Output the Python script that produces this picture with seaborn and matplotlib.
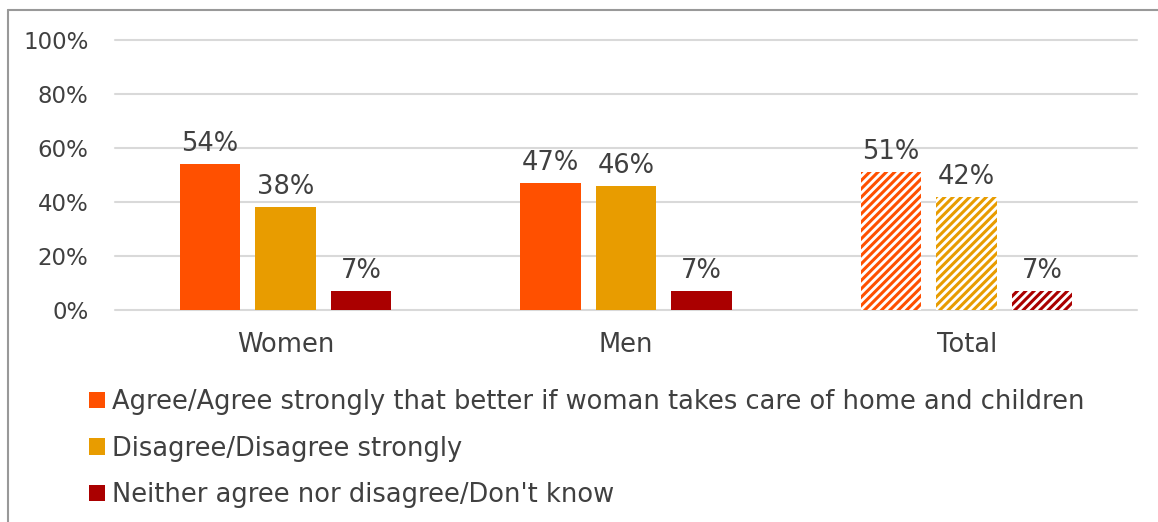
import matplotlib
matplotlib.use("Agg")
import matplotlib.pyplot as plt
from matplotlib.lines import Line2D
import seaborn as sns
import pandas as pd

# Survey results by respondent group
groups = ["Women", "Men", "Total"]
responses = [
    "Agree/Agree strongly that better if woman takes care of home and children",
    "Disagree/Disagree strongly",
    "Neither agree nor disagree/Don't know",
]
agree = [54, 47, 51]
disagree = [38, 46, 42]
neither = [7, 7, 7]
colors = ["#FF5000", "#E89C00", "#AA0000"]
y_ticks = [0, 20, 40, 60, 80, 100]

rows = []
for resp, vals in zip(responses, [agree, disagree, neither]):
    for g, v in zip(groups, vals):
        rows.append({"group": g, "response": resp, "value": v})
df = pd.DataFrame(rows)

sns.set_theme(style="white")
plt.rcParams["font.family"] = ["DejaVu Sans"]
plt.rcParams["hatch.linewidth"] = 2.2
text_color = "#404040"

fig = plt.figure(figsize=(11.58, 5.22), dpi=100)
ax = fig.add_axes([115 / 1158, 1 - 310 / 522, 1022 / 1158, 270 / 522])

sns.barplot(data=df, x="group", y="value", hue="response", order=groups,
            hue_order=responses, palette=colors, width=0.665, gap=0.2,
            saturation=1, linewidth=0, ax=ax, legend=True)

# Overall column drawn with diagonal stripes
for container, col in zip(ax.containers, colors):
    bar = container.patches[2]
    bar.set_facecolor("white")
    bar.set_edgecolor(col)
    bar.set_hatch("////")
    bar.set_linewidth(0)

for container, vals in zip(ax.containers, [agree, disagree, neither]):
    ax.bar_label(container, labels=[f"{v}%" for v in vals], padding=5,
                 fontsize=18.5, color=text_color)

ax.set_xlim(-0.5, 2.5)
ax.set_ylim(0, 100)
ax.set_yticks(y_ticks)
ax.set_yticklabels([f"{t}%" for t in y_ticks])
ax.yaxis.grid(True, color="#D9D9D9", linewidth=1.5)
for gl in ax.get_ygridlines():
    gl.set_clip_on(False)
ax.set_axisbelow(True)
for s in ax.spines.values():
    s.set_visible(False)
ax.tick_params(axis="y", length=0, pad=19, labelsize=16.5, labelcolor=text_color)
ax.tick_params(axis="x", length=0, pad=16, labelsize=18.5, labelcolor=text_color)
ax.set_xlabel("")
ax.set_ylabel("")

handles, labels = ax.get_legend_handles_labels()
ax.get_legend().remove()
fig.legend(handles, labels, loc="upper left", bbox_to_anchor=(66 / 1158, 1 - 366 / 522),
           frameon=False, fontsize=18.5, labelcolor=text_color, handlelength=0.6,
           handleheight=0.6, handletextpad=0.3, labelspacing=0.8)

# Outer frame of the chart area (left and top edges)
frame_x = 8 / 1158
frame_y = 1 - 10 / 522
for xs, ys in [([frame_x, frame_x], [-0.05, frame_y]), ([frame_x, 1.05], [frame_y, frame_y])]:
    fig.add_artist(Line2D(xs, ys, transform=fig.transFigure, color="#999999",
                          linewidth=1.5))

fig.savefig("out.png", dpi=100)
